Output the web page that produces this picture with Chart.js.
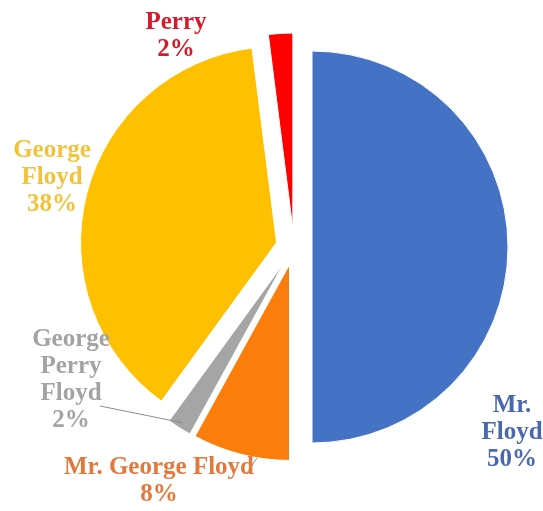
<!DOCTYPE html>
<html>
<head>
<meta charset="utf-8">
<script src="https://cdn.jsdelivr.net/npm/chart.js@4.4.1/dist/chart.umd.min.js"></script>
<style>
html, body { margin: 0; padding: 0; background: #fff; }
#wrap { width: 543px; height: 511px; position: relative; }
</style>
</head>
<body>
<div id="wrap"><canvas id="chartNames"></canvas></div>
<script>
// slices, clockwise from 12 o'clock
const names = ['Mr. Floyd', 'Mr. George Floyd', 'George Perry Floyd', 'George Floyd', 'Perry'];
const shares = [50, 8, 2, 38, 2];
const sliceColors = ['#4472C4', '#FB7D0C', '#A5A5A5', '#FFC000', '#FF0000'];
const textColors = ['#4A68AF', '#E2793C', '#A3A3A3', '#F2C23A', '#D8192A'];

// label placement: block centre relative to the pie centre, and whether the name wraps word by word
const labelSpots = [
  { dx: 218, dy: 186, wrap: true },
  { dx: -135, dy: 234, wrap: false },
  { dx: -223, dy: 133, wrap: true },
  { dx: -242, dy: -69, wrap: true },
  { dx: -118, dy: -211, wrap: true }
];

// exploded pie: push each slice out along its mid angle instead of the default offset behaviour
const ArcEl = Chart.ArcElement || Chart.registry.getElement('arc');
const baseArcDraw = ArcEl.prototype.draw;
ArcEl.prototype.draw = function (ctx) {
  const opts = this.options;
  const shift = opts.offset || 0;
  if (!shift) return baseArcDraw.call(this, ctx);
  const mid = (this.startAngle + this.endAngle) / 2;
  ctx.save();
  ctx.translate(Math.cos(mid) * shift, Math.sin(mid) * shift);
  this.options = Object.assign({}, opts, { offset: 0 });
  baseArcDraw.call(this, ctx);
  this.options = opts;
  ctx.restore();
};

function arcPoint(arc, frac, rFrac) {
  const shift = arc.options.offset || 0;
  const mid = (arc.startAngle + arc.endAngle) / 2;
  const a = arc.startAngle + (arc.endAngle - arc.startAngle) * frac;
  const r = arc.outerRadius * rFrac;
  return {
    x: arc.x + Math.cos(mid) * shift + Math.cos(a) * r,
    y: arc.y + Math.sin(mid) * shift + Math.sin(a) * r
  };
}

const pieLabels = {
  id: 'pieLabels',
  afterDatasetsDraw(chart) {
    const ctx = chart.ctx;
    const arcs = chart.getDatasetMeta(0).data;
    const lineH = 27;
    ctx.save();

    // leader lines for the two small lower slices
    ctx.strokeStyle = '#8C8C8C';
    ctx.lineWidth = 1;
    const g = arcs[2];
    const gEnd = arcPoint(g, 0.5, 0.97);
    ctx.beginPath();
    ctx.moveTo(g.x + labelSpots[2].dx + 29, g.y + labelSpots[2].dy + 26);
    ctx.lineTo(gEnd.x, gEnd.y);
    ctx.stroke();
    const o = arcs[1];
    const oEnd = arcPoint(o, 0.33, 1.0);
    ctx.beginPath();
    ctx.moveTo(oEnd.x, oEnd.y);
    ctx.lineTo(o.x + labelSpots[1].dx + 88, o.y + labelSpots[1].dy - 8);
    ctx.stroke();

    ctx.font = 'bold 25px "Liberation Serif", "Times New Roman", serif';
    ctx.textAlign = 'center';
    ctx.textBaseline = 'middle';
    arcs.forEach((arc, i) => {
      const spot = labelSpots[i];
      const lines = spot.wrap ? names[i].split(' ') : [names[i]];
      lines.push(shares[i] + '%');
      const cx = arc.x + spot.dx;
      const top = arc.y + spot.dy - (lines.length - 1) * lineH / 2;
      ctx.fillStyle = textColors[i];
      lines.forEach((t, k) => ctx.fillText(t, cx, top + k * lineH));
    });
    ctx.restore();
  }
};

new Chart(document.getElementById('chartNames').getContext('2d'), {
  type: 'pie',
  data: {
    labels: names,
    datasets: [{
      data: shares,
      backgroundColor: sliceColors,
      borderColor: '#ffffff',
      borderWidth: 1,
      offset: 18
    }]
  },
  options: {
    responsive: true,
    maintainAspectRatio: false,
    animation: false,
    radius: 196,
    layout: { padding: { left: 45, right: 0, top: 0, bottom: 17 } },
    plugins: {
      legend: { display: false },
      tooltip: { enabled: false }
    }
  },
  plugins: [pieLabels]
});
</script>
</body>
</html>
